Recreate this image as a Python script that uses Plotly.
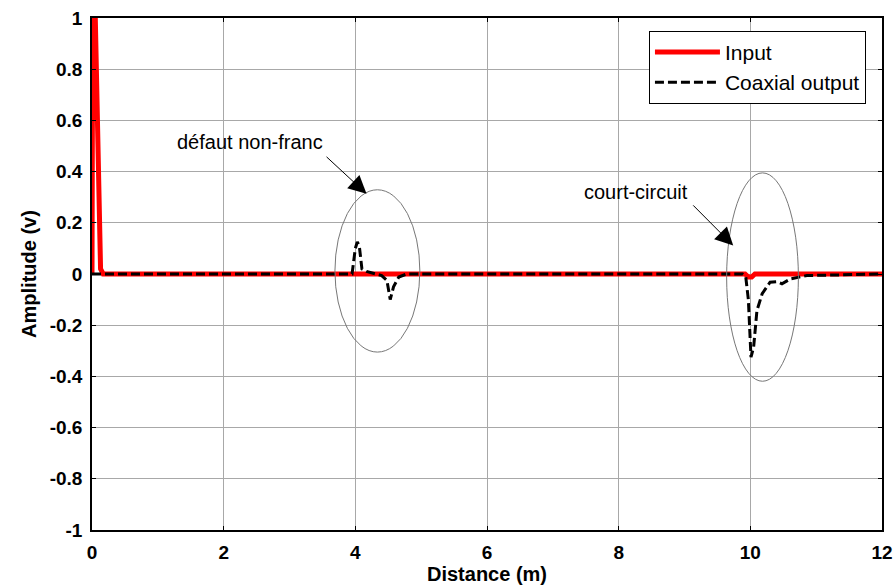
import plotly.graph_objects as go

# ---- data ----
input_x = [0, 0.01, 0.05, 0.13, 0.17, 9.92, 9.97, 10.02, 10.07, 12]
input_y = [0, 1.0, 1.0, 0.02, 0, 0, -0.012, -0.012, 0, 0]

coax_x = [0, 3.95, 4.0, 4.03, 4.06, 4.1, 4.17, 4.3, 4.4, 4.48, 4.53, 4.58, 4.66, 4.78,
          9.88, 9.93, 9.97, 10.01, 10.05, 10.1, 10.18, 10.3, 10.4, 10.48, 10.61, 10.86, 12]
coax_y = [0, 0, 0.1, 0.125, 0.11, 0.02, 0.01, 0.0, -0.006, -0.025, -0.10, -0.05, -0.012, 0,
          0, -0.01, -0.10, -0.325, -0.286, -0.143, -0.077, -0.032, -0.03, -0.038, -0.019, -0.006, 0]

x_ticks = [0, 2, 4, 6, 8, 10, 12]
y_ticks = [1, 0.8, 0.6, 0.4, 0.2, 0, -0.2, -0.4, -0.6, -0.8, -1]
y_tick_text = ["1", "0.8", "0.6", "0.4", "0.2", "0", "-0.2", "-0.4", "-0.6", "-0.8", "-1"]

FONT = "Liberation Sans, Arial, sans-serif"

fig = go.Figure()
fig.add_trace(go.Scatter(x=input_x, y=input_y, mode="lines", name="Input",
                         line=dict(color="#ff0000", width=5)))
fig.add_trace(go.Scatter(x=coax_x, y=coax_y, mode="lines", name="Coaxial output",
                         line=dict(color="#000000", width=3, dash="9px,4px")))

# ellipses
fig.add_shape(type="circle", xref="x", yref="y", x0=3.69, x1=4.98, y0=-0.305, y1=0.329,
              line=dict(color="#777777", width=1))
fig.add_shape(type="circle", xref="x", yref="y", x0=9.64, x1=10.73, y0=-0.419, y1=0.395,
              line=dict(color="#777777", width=1))

# annotation texts
fig.add_annotation(x=2.40, y=0.514, xref="x", yref="y", text="défaut non-franc",
                   showarrow=False, font=dict(family=FONT, size=20, color="black"))
fig.add_annotation(x=8.26, y=0.322, xref="x", yref="y", text="court-circuit",
                   showarrow=False, font=dict(family=FONT, size=20, color="black"))
# arrows
fig.add_annotation(x=4.17, y=0.313, ax=3.54, ay=0.463, xref="x", yref="y",
                   axref="x", ayref="y", text="", showarrow=True,
                   arrowhead=2, arrowsize=3.6, arrowwidth=1, arrowcolor="black")
fig.add_annotation(x=9.74, y=0.111, ax=9.11, ay=0.274, xref="x", yref="y",
                   axref="x", ayref="y", text="", showarrow=True,
                   arrowhead=2, arrowsize=3.6, arrowwidth=1, arrowcolor="black")

fig.update_layout(
    width=896, height=586,
    margin=dict(l=92, r=14, t=18, b=56, autoexpand=False),
    paper_bgcolor="white", plot_bgcolor="white",
    font=dict(family=FONT, size=19, color="black"),
    showlegend=True,
    legend=dict(x=0.705, y=0.975, xanchor="left", yanchor="top",
                bgcolor="white", bordercolor="black", borderwidth=1,
                font=dict(family=FONT, size=21, color="black"),
                itemwidth=65, tracegroupgap=0),
)
fig.update_xaxes(range=[0, 12], tickvals=x_ticks, ticktext=[str(v) for v in x_ticks],
                 automargin=False,
                 showgrid=True, gridcolor="#a8a8a8", gridwidth=1,
                 showline=True, linecolor="black", linewidth=1.5, mirror="ticks",
                 ticks="inside", ticklen=4, tickcolor="black", zeroline=False,
                 ticklabelstandoff=4,
                 tickfont=dict(family=FONT, size=19, color="black", weight="bold"),
                 title=dict(text="Distance (m)", font=dict(family=FONT, size=20, weight="bold"), standoff=4))
fig.update_yaxes(range=[-1, 1], tickvals=y_ticks, ticktext=y_tick_text,
                 automargin=False,
                 showgrid=True, gridcolor="#a8a8a8", gridwidth=1,
                 showline=True, linecolor="black", linewidth=1.5, mirror="ticks",
                 ticks="inside", ticklen=4, tickcolor="black", zeroline=False,
                 ticklabelstandoff=4,
                 tickfont=dict(family=FONT, size=19, color="black", weight="bold"),
                 title=dict(text="Amplitude (v)", font=dict(family=FONT, size=20, weight="bold"), standoff=8))

fig.write_html("out.html")
